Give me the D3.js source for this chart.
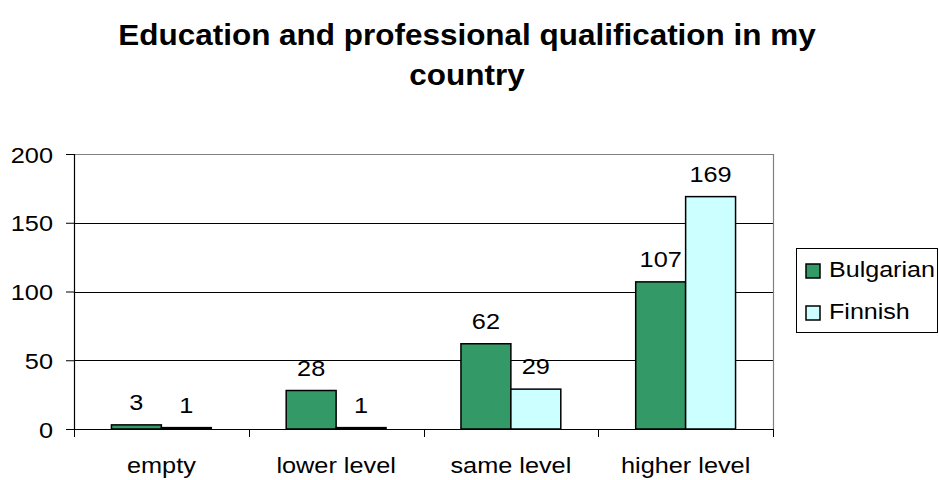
<!DOCTYPE html>
<html>
<head>
<meta charset="utf-8">
<script src="https://cdn.jsdelivr.net/npm/d3@7"></script>
<style>
  html, body { margin: 0; padding: 0; background: #fff; }
  svg { display: block; font-family: Arial, "Liberation Sans", sans-serif; }
</style>
</head>
<body>
<svg id="chart" width="939" height="480"></svg>
<script>
// Survey answers: education vs. professional qualification
const categories = ["empty", "lower level", "same level", "higher level"];
const seriesNames = ["Bulgarian", "Finnish"];
const bulgarian = [3, 28, 62, 107];
const finnish = [1, 1, 29, 169];
const yTicks = [0, 50, 100, 150, 200];
const titleLines = ["Education and professional qualification in my", "country"];

const colors = { Bulgarian: "#339966", Finnish: "#CCFFFF" };
const seriesValues = { Bulgarian: bulgarian, Finnish: finnish };

const svg = d3.select("#chart");
const plot = { left: 74, right: 773, top: 154, bottom: 429 };

const x = d3.scaleBand().domain(categories).range([plot.left, plot.right]).padding(0);
const y = d3.scaleLinear().domain([0, 200]).range([plot.bottom, plot.top]);

// Excel-style gap width of 150% between clusters
const gap = 1.5;
const barW = x.bandwidth() / (seriesNames.length + gap);
const x1 = d3.scaleBand().domain(seriesNames)
  .range([0, barW * seriesNames.length]);
const clusterOffset = (x.bandwidth() - barW * seriesNames.length) / 2;

// Text in this chart is drawn slightly wide
function wideText(sel, px, py, anchor, sx) {
  return sel.attr("transform", `translate(${px},${py}) scale(${sx},1)`)
    .attr("text-anchor", anchor);
}
const LABEL_SX = 1.15;

// Title
titleLines.forEach((line, i) => {
  wideText(svg.append("text"), 467, 45 + i * 40, "middle", 1.085)
    .attr("font-size", 29).attr("font-weight", "bold").attr("fill", "#000")
    .text(line);
});

// Gridlines
svg.append("g").selectAll("line").data(yTicks.filter(d => d > 0)).join("line")
  .attr("x1", plot.left).attr("x2", plot.right)
  .attr("y1", d => Math.round(y(d)) + 0.5).attr("y2", d => Math.round(y(d)) + 0.5)
  .attr("stroke", "#000").attr("stroke-width", 1);

// Plot area frame (top and right in grey)
svg.append("path")
  .attr("d", `M${plot.left},${plot.top + 0.5}H${plot.right + 0.5}V${plot.bottom}`)
  .attr("fill", "none").attr("stroke", "#808080").attr("stroke-width", 1.2);

// Bars
const groups = svg.append("g").selectAll("g").data(categories).join("g")
  .attr("transform", d => `translate(${x(d) + clusterOffset},0)`);

groups.selectAll("rect")
  .data((c, i) => seriesNames.map(s => ({ s, v: seriesValues[s][i] })))
  .join("rect")
  .attr("x", d => x1(d.s))
  .attr("width", x1.bandwidth())
  .attr("y", d => y(d.v))
  .attr("height", d => y(0) - y(d.v))
  .attr("fill", d => colors[d.s])
  .attr("stroke", "#000").attr("stroke-width", 1.5);

// Value labels
groups.selectAll("text.val")
  .data((c, i) => seriesNames.map(s => ({ s, v: seriesValues[s][i] })))
  .join("text").attr("class", "val")
  .each(function (d) {
    wideText(d3.select(this), x1(d.s) + x1.bandwidth() / 2, y(d.v) - 15, "middle", LABEL_SX);
  })
  .attr("font-size", 22).attr("fill", "#000")
  .text(d => d.v);

// Y axis
const yAxis = svg.append("g").attr("transform", `translate(${plot.left},0)`)
  .call(d3.axisLeft(y).tickValues(yTicks).tickSize(8).tickPadding(0));
yAxis.select(".domain").attr("stroke", "#000").attr("stroke-width", 1.2);
yAxis.selectAll(".tick line").attr("stroke", "#000");
yAxis.selectAll(".tick text").remove();
yAxis.selectAll(".tick").append("text")
  .each(function () { wideText(d3.select(this), -21, 8, "end", LABEL_SX); })
  .attr("font-size", 22).attr("fill", "#000").attr("font-family", "Arial, 'Liberation Sans', sans-serif")
  .text(d => d);

// X axis with ticks on cluster boundaries
const xAxisG = svg.append("g").attr("transform", `translate(0,${plot.bottom})`);
xAxisG.append("line").attr("x1", plot.left).attr("x2", plot.right + 1)
  .attr("y1", 0.5).attr("y2", 0.5).attr("stroke", "#000").attr("stroke-width", 1.2);
const boundaries = categories.map(c => x(c)).concat([x(categories[categories.length - 1]) + x.bandwidth()]);
xAxisG.selectAll("line.tick").data(boundaries).join("line").attr("class", "tick")
  .attr("x1", d => Math.round(d) + 0.5).attr("x2", d => Math.round(d) + 0.5)
  .attr("y1", 0).attr("y2", 8).attr("stroke", "#000");
xAxisG.selectAll("text").data(categories).join("text")
  .each(function (d) { wideText(d3.select(this), x(d) + x.bandwidth() / 2, 44, "middle", LABEL_SX); })
  .attr("font-size", 22).attr("fill", "#000")
  .text(d => d);

// Legend
const legend = svg.append("g");
legend.append("rect").attr("x", 796.5).attr("y", 248.5).attr("width", 141).attr("height", 84)
  .attr("fill", "#fff").attr("stroke", "#000").attr("stroke-width", 1);
seriesNames.forEach((s, i) => {
  const ly = 264 + i * 42;
  legend.append("rect").attr("x", 806).attr("y", ly).attr("width", 14).attr("height", 14)
    .attr("fill", colors[s]).attr("stroke", "#000").attr("stroke-width", 1.5);
  wideText(legend.append("text"), 829, ly + 13, "start", 1.14)
    .attr("font-size", 22).attr("fill", "#000").text(s);
});
</script>
</body>
</html>
